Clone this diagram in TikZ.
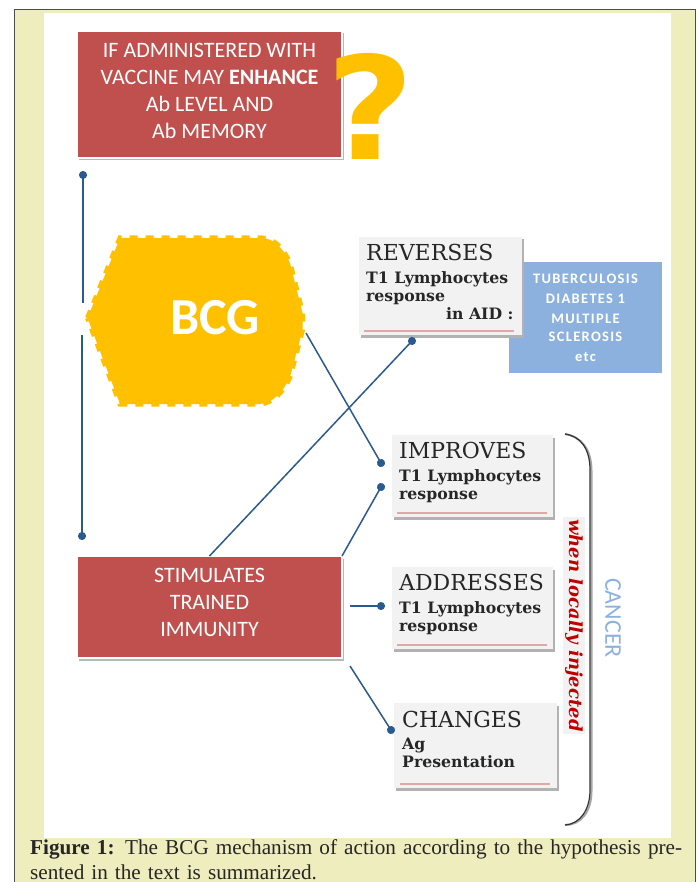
\documentclass[tikz,border=0pt]{standalone}
\usepackage{fontspec}
\setmainfont{DejaVu Serif}
\newfontfamily\calfont{Carlito}
\newfontfamily\calspaced[LetterSpace=9]{Carlito}
\newfontfamily\capfont{Liberation Serif}
\newfontfamily\markfont{DejaVu Sans}
\usetikzlibrary{arrows.meta,shadows}

\definecolor{pagebg}{HTML}{EEEDBD}
\definecolor{redbox}{HTML}{C0504D}
\definecolor{linkblue}{HTML}{2A5A8E}
\definecolor{skyblue}{HTML}{8DB1DF}
\definecolor{bcgyellow}{HTML}{FFC000}
\newcommand{\titlesize}{\fontsize{22}{24}\bfseries\mdseries\selectfont}
\newcommand{\subsize}{\fontsize{15.7}{18}\bfseries\selectfont}

\tikzset{
  redcard/.style={draw=white, line width=2pt, fill=redbox, inner sep=0pt, outer sep=0pt, minimum width=265pt,
    drop shadow={shadow xshift=2pt, shadow yshift=-2.5pt, fill=black!28, opacity=1}},
  redtext/.style={text=white, align=center, inner sep=0pt, font=\calfont\fontsize{22}{27}\selectfont},
  greycard/.style={fill=black!5, inner sep=0pt, outer sep=0pt, minimum width=161pt,
    drop shadow={shadow xshift=2pt, shadow yshift=-2.5pt, fill=black!30, opacity=1}},
  cardtext/.style={anchor=north west, align=left, inner sep=0pt, text=black!85, font=\subsize},
  cardrule/.style={draw=redbox!50, line width=1.5pt},
  link/.style={draw=linkblue, line width=1.5pt},
  dotted end/.style={link, -{Circle[length=8pt,width=8pt]}, shorten >=-4pt},
}

\begin{document}
\begin{tikzpicture}[x=1pt, y=-1pt]
  \useasboundingbox (0,0) rectangle (698,882);

  % page
  \fill[pagebg] (14,10) rectangle (695,882);
  \fill[white] (44,13) rectangle (671,838);
  \draw[black!70, line width=1pt] (14,882) -- (14,10) -- (695,10) -- (695,882);

  % left line, broken at the tip of the hexagon
  \coordinate (topdot) at (83,175);
  \coordinate (gapa) at (83,303);
  \coordinate (gapb) at (82,335);
  \coordinate (lowdot) at (82,536);
  \draw[link, {Circle[length=8pt,width=8pt]}-, shorten <=-4pt] (topdot) -- (gapa);
  \draw[dotted end] (gapb) -- (lowdot);

  % red boxes
  \node[redcard, minimum height=127pt] (enhance) at (209.5,94.5) {};
  \node[redtext] (enhancetxt) at (209.5,91)
    {IF ADMINISTERED WITH\\VACCINE MAY \textbf{ENHANCE}\\Ab LEVEL AND\\Ab MEMORY};
  \node[redcard, minimum height=102pt] (stim) at (209.5,607) {};
  \node[redtext] (stimtxt) at (209.5,602.5)
    {STIMULATES\\TRAINED\\IMMUNITY};
  \node[font=\markfont\bfseries\fontsize{143}{143}\selectfont, text=bcgyellow, inner sep=0pt, xscale=1.06] (quest) at (370,106) {?};

  % hexagon
  \filldraw[fill=bcgyellow, draw=bcgyellow, line width=5pt, dash pattern=on 8pt off 8pt]
    (87.5,318) -- (120,238) -- (262,238) .. controls (272,239) and (280,243) .. (290,263)
    -- (302.5,313) -- (302.5,330) -- (290,377) .. controls (282,394) and (272,403) .. (260,404)
    -- (120,404) -- cycle;
  \node[font=\calfont\bfseries\fontsize{52}{52}\selectfont, text=white, inner sep=0pt] (bcg) at (215,318) {BCG};

  % blue box
  \node[fill=skyblue, minimum width=153pt, minimum height=111pt, inner sep=0pt, text=white, align=center,
    font=\calspaced\bfseries\fontsize{14.5}{20}\selectfont] (aid) at (585.5,317.5)
    {TUBERCULOSIS\\DIABETES 1\\MULTIPLE\\[-2pt]SCLEROSIS\\etc};

  % grey boxes
  \node[greycard, minimum width=163pt, minimum height=98pt] (rev) at (440,286) {};
  \node[cardtext] (revtxt) at (366,244)
    {{\titlesize REVERSES}\\[5pt]T1 Lymphocytes\\response\\\hspace*{80pt}in AID :};
  \draw[cardrule] ([xshift=5pt,yshift=4pt]rev.south west) -- ([xshift=-8pt,yshift=4pt]rev.south east);

  \node[greycard, minimum height=82pt] (imp) at (472.5,476) {};
  \node[cardtext] (imptxt) at (399,442)
    {{\titlesize IMPROVES}\\[5pt]T1 Lymphocytes\\response};
  \draw[cardrule] ([xshift=5pt,yshift=4pt]imp.south west) -- ([xshift=-6pt,yshift=4pt]imp.south east);

  \node[greycard, minimum height=82pt] (addr) at (472.5,608) {};
  \node[cardtext] (addrtxt) at (399,574)
    {{\titlesize ADDRESSES}\\[5pt]T1 Lymphocytes\\response};
  \draw[cardrule] ([xshift=5pt,yshift=4pt]addr.south west) -- ([xshift=-6pt,yshift=4pt]addr.south east);

  \node[greycard, minimum width=163pt, minimum height=85pt] (chg) at (475.5,745.5) {};
  \node[cardtext] (chgtxt) at (402,711)
    {{\titlesize CHANGES}\\[4pt]Ag\\Presentation};
  \draw[cardrule] ([xshift=6pt,yshift=4pt]chg.south west) -- ([xshift=-7pt,yshift=4pt]chg.south east);

  % connectors
  \coordinate (bcgout) at (306,333);
  \coordinate (impdota) at (381,463);
  \coordinate (impdotb) at (381,487);
  \coordinate (revdot) at (412,341);
  \coordinate (stimeast) at (350,606);
  \coordinate (addrdot) at (381,606);
  \coordinate (stimlow) at (350,666);
  \coordinate (chgdot) at (391,730);
  \draw[dotted end] (bcgout) -- (impdota);
  \draw[dotted end] (stim.north) -- (revdot);
  \draw[dotted end] (stim.north east) -- (impdotb);
  \draw[dotted end] (stimeast) -- (addrdot);
  \draw[dotted end] (stimlow) -- (chgdot);

  % bracket
  \coordinate (bracka) at (565,434);
  \coordinate (brackb) at (565,825);
  \draw[black!35, line width=2pt, xshift=1.5pt, yshift=-1pt] (bracka) .. controls (580,436) and (590,448) .. (590,470)
    -- (590,790) .. controls (590,810) and (580,824) .. (brackb);
  \draw[black!80, line width=1.2pt] (bracka) .. controls (580,436) and (590,448) .. (590,470)
    -- (590,790) .. controls (590,810) and (580,824) .. (brackb);

  % side labels
  \node[rotate=-90, fill=black!5, text=red!75!black, inner sep=2pt, minimum height=21pt,
    font=\bfseries\itshape\fontsize{18}{18}\selectfont] (local) at (574,625.5) {when locally injected};
  \node[rotate=-90, text=skyblue, inner sep=0pt, font=\calfont\fontsize{24}{24}\selectfont] (cancer) at (613,618) {CANCER};

  % caption
  \node[anchor=north west, inner sep=0pt, text width=665pt, align=left, text=black!85,
    font=\capfont\fontsize{21.2}{25.5}\selectfont] (capt) at (30,839)
    {\textbf{Figure 1:} The BCG mechanism of action according to the hypothesis pre-\\sented in the text is summarized.};
\end{tikzpicture}
\end{document}
